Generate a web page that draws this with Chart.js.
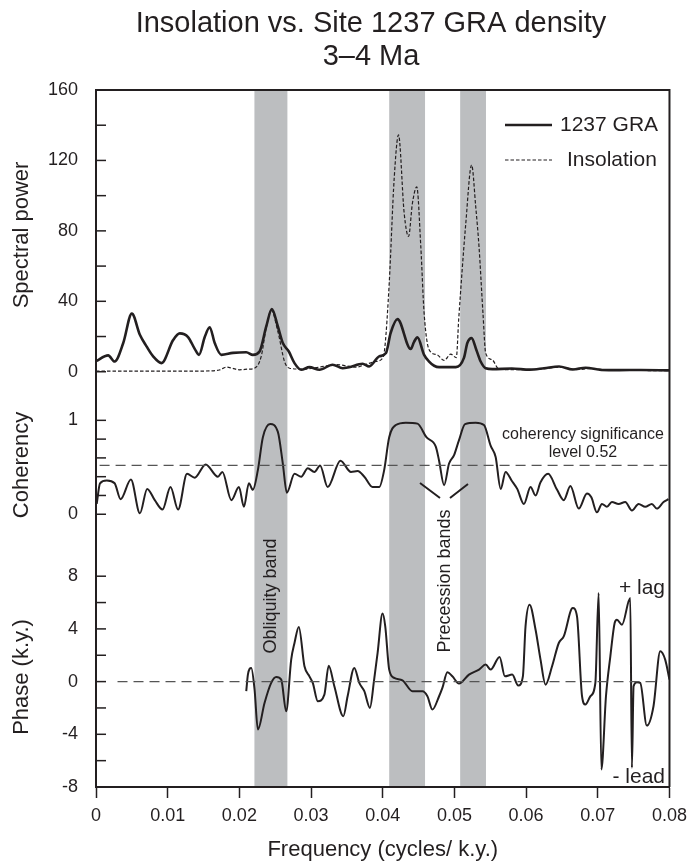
<!DOCTYPE html>
<html>
<head>
<meta charset="utf-8">
<title>Insolation vs. Site 1237 GRA density</title>
<script src="https://cdn.jsdelivr.net/npm/chart.js@4.4.1/dist/chart.umd.min.js"></script>
<style>
  html, body { margin: 0; padding: 0; background: #fff; }
  canvas { display: block; }
</style>
</head>
<body>
<canvas id="spectraChart" width="694" height="863"></canvas>
<script>
// spectral power, 1237 GRA
const graFreq = [0, 0.0017, 0.0026, 0.0038, 0.005, 0.00612, 0.00705, 0.00797, 0.00914, 0.01076, 0.01169,
  0.01284, 0.01377, 0.01437, 0.01517, 0.01586, 0.01656, 0.01748, 0.0191, 0.02096, 0.02189, 0.02282,
  0.02375, 0.02453, 0.02537, 0.02606, 0.0269, 0.02769, 0.02862, 0.02977, 0.03117, 0.03301, 0.0344,
  0.0353, 0.0372, 0.0381, 0.0395, 0.04045, 0.0411, 0.04206, 0.0439, 0.04437, 0.04484, 0.04577,
  0.04647, 0.04717, 0.04786, 0.0502, 0.05134, 0.0518, 0.0524, 0.05305, 0.05366, 0.05436, 0.0553,
  0.058, 0.0605, 0.0625, 0.0646, 0.0665, 0.0683, 0.0705, 0.073, 0.076, 0.08];
const graPower = [6, 9.3, 5.8, 16.3, 33, 21, 14.4, 8.7, 4.9, 18, 21.8,
  19.7, 13, 9.6, 19.7, 25.3, 16.3, 9.6, 10.7, 11.1, 9.6, 11.5,
  25.7, 35.6, 25.7, 16.3, 11.5, 4.9, 1.1, 2.6, 1.1, 4, 2,
  2.6, 4.5, 3, 8.7, 10.6, 22, 29.9, 12.9, 17, 19.5, 9.6,
  5.8, 3.4, 2.6, 2.6, 8, 16.3, 19.1, 12.5, 5.8, 2, 1.5,
  1.8, 1.2, 2, 3, 1.3, 2.3, 1, 0.9, 1, 0.8];

// spectral power, insolation
const insFreq = [0, 0.005, 0.01, 0.015, 0.0172, 0.0182, 0.019, 0.02, 0.0213, 0.0221, 0.02305, 0.0237,
  0.02445, 0.0254, 0.0263, 0.027, 0.02885, 0.031, 0.0335, 0.0363, 0.0375, 0.039, 0.04, 0.0403,
  0.0409, 0.0416, 0.0422, 0.04299, 0.0436, 0.04414, 0.04475, 0.04531, 0.04577, 0.04647, 0.0476,
  0.04856, 0.04948, 0.05026, 0.0506, 0.05158, 0.0524, 0.05297, 0.05343, 0.05398, 0.05436, 0.05527,
  0.0562, 0.058, 0.062, 0.0648, 0.067, 0.069, 0.072, 0.076, 0.08];
const insPower = [0.3, 0.3, 0.3, 0.4, 1, 2.6, 2, 1.1, 1.5, 2, 8.7, 24,
  34.8, 22.4, 5.8, 2, 1.5, 2.5, 4, 2.6, 4, 5.8, 7.8, 14,
  50, 110, 134.5, 90, 76.8, 95.7, 105, 71, 33.3, 12.5, 9.6,
  6.4, 10, 8, 30, 84, 117.4, 93.8, 71, 33.3, 10.6, 6.8,
  1.5, 1.2, 1.5, 2.6, 1.2, 1.8, 0.8, 0.7, 0.6];

// coherency
const cohFreq = [0.0001, 0.00056, 0.0015, 0.0026, 0.00343, 0.00487, 0.00612, 0.00714, 0.0082, 0.00928,
  0.01039, 0.01145, 0.0127, 0.01377, 0.0153, 0.01701, 0.01763, 0.01888, 0.01994, 0.02063, 0.02133,
  0.02188, 0.02258, 0.02328, 0.0243, 0.02536, 0.02606, 0.02662, 0.02769, 0.02862, 0.02954, 0.03047,
  0.03126, 0.03232, 0.0341, 0.03557, 0.0365, 0.03743, 0.03858, 0.03951, 0.0402, 0.0409, 0.04183,
  0.04322, 0.04484, 0.04609, 0.0474, 0.04786, 0.04856, 0.04925, 0.04995, 0.05064, 0.05148, 0.05297,
  0.05412, 0.05505, 0.05575, 0.05645, 0.05714, 0.05797, 0.05876, 0.05969, 0.06062, 0.06132, 0.06201,
  0.06307, 0.06432, 0.06525, 0.06618, 0.06734, 0.06849, 0.0691, 0.06988, 0.07058, 0.07127, 0.07197,
  0.0729, 0.07383, 0.07476, 0.07569, 0.07662, 0.07754, 0.07823, 0.07917, 0.07986];
const cohValue = [0.11, 0.33, 0.36, 0.33, 0.16, 0.37, 0.01, 0.27, 0.15, 0.05,
  0.29, 0.05, 0.43, 0.39, 0.53, 0.40, 0.45, 0.15, 0.29, 0.08, 0.33,
  0.26, 0.47, 0.82, 0.96, 0.88, 0.54, 0.23, 0.43, 0.40, 0.49, 0.45,
  0.52, 0.29, 0.57, 0.45, 0.46, 0.40, 0.29, 0.29, 0.47, 0.82, 0.95,
  0.975, 0.965, 0.82, 0.72, 0.57, 0.31, 0.54, 0.63, 0.79, 0.96, 0.975,
  0.95, 0.73, 0.61, 0.27, 0.45, 0.36, 0.27, 0.11, 0.29, 0.20, 0.34,
  0.43, 0.26, 0.15, 0.30, 0.06, 0.22, 0.18, 0.02, 0.11, 0.08, 0.13,
  0.11, 0.13, 0.04, 0.11, 0.08, 0.11, 0.06, 0.13, 0.16];
const cohSigFreq = [0.0005, 0.0797];
const cohSigLevel = [0.52, 0.52];

// phase (k.y.)
const phaseFreq = [0.02096, 0.02119, 0.02166, 0.02212, 0.02258, 0.02351, 0.02444, 0.02514, 0.02584,
  0.02653, 0.02723, 0.02769, 0.02829, 0.02908, 0.02977, 0.03024, 0.03094, 0.03186, 0.03246, 0.03325,
  0.0345, 0.0351, 0.03603, 0.03673, 0.03743, 0.03821, 0.0388, 0.03928, 0.03997, 0.04035, 0.0409,
  0.0416, 0.04275, 0.04414, 0.04554, 0.04623, 0.04693, 0.04786, 0.04832, 0.04902, 0.04971, 0.05064,
  0.05203, 0.05343, 0.05436, 0.05505, 0.0563, 0.05704, 0.05806, 0.0589, 0.05955, 0.05992, 0.06048,
  0.06132, 0.06201, 0.06271, 0.06362, 0.06456, 0.06525, 0.0665, 0.0671, 0.0678, 0.06827, 0.06897,
  0.06966, 0.07012, 0.0705, 0.07114, 0.07175, 0.07235, 0.07267, 0.07337, 0.07453, 0.07476, 0.07499,
  0.07545, 0.07592, 0.07684, 0.07777, 0.07871, 0.0794, 0.08];
const phaseValue = [-0.73, 0.53, 1.04, -0.6, -3.64, -1.62, -0.1, 0.35, 0.15,
  -2.25, 1.67, 2.93, 4.15, 1.16, 0.4, -0.1, -1.49, -0.99, 1.21, -0.35,
  -2.63, -1.11, 1.04, -0.1, -0.73, -2.0, 0.15, 2.17, 5.16, 4.2, 0.91,
  0.28, 0.1, -0.73, -0.73, -1.11, -2.12, -1.11, -0.48, 0.71, 0.4, -0.15,
  0.53, 0.91, 1.29, 0.91, 1.87, 0.4, 0.53, -0.3, 0.4, 4.2, 5.84,
  3.94, 1.67, -0.23, 1.16, 2.93, 3.43, 5.59, 4.95, -1.11, -1.74, -1.11,
  -0.1, 6.72, -6.67, -1.11, 1.92, 4.45, 4.7, 4.32, 6.34, -6.54, -0.35,
  -0.05, -0.1, -3.34, -1.87, 2.3, 1.67, 0.15];
const phaseZeroFreq = [0.003, 0.0789];
const phaseZeroLevel = [0, 0];

// orbital bands (cycles/k.y.)
const bandStart = [0.0221, 0.0409, 0.0508];
const bandEnd = [0.0267, 0.0459, 0.0544];

// ticks
const freqTicks = [0, 0.01, 0.02, 0.03, 0.04, 0.05, 0.06, 0.07, 0.08];
const freqLabels = ['0', '0.01', '0.02', '0.03', '0.04', '0.05', '0.06', '0.07', '0.08'];
const specTicks = [0, 20, 40, 60, 80, 100, 120, 140, 160];
const specLabels = [0, 40, 80, 120, 160];
const cohTicks = [0, 0.2, 0.4, 0.6, 0.8, 1];
const cohLabels = [0, 1];
const phaseTicks = [-8, -6, -4, -2, 0, 2, 4, 6, 8];
const phaseLabels = [-8, -4, 0, 4, 8];

const titleLines = ['Insolation vs. Site 1237 GRA density', '3\u20134 Ma'];

const INK = '#231f20';
const FONT = '"Liberation Sans", Arial, Helvetica, sans-serif';
Chart.defaults.font.family = FONT;
Chart.defaults.color = INK;

function points(xs, ys) {
    return xs.map((x, i) => ({ x: x, y: ys[i] }));
}

// one of the three stacked y axes
function panelAxis(min, max, weight, stackWeight, tickValues, labelValues) {
    return {
        type: 'linear',
        position: 'left',
        stack: 'panels',
        stackWeight: stackWeight,
        weight: weight,
        min: min,
        max: max,
        afterBuildTicks: s => { s.ticks = tickValues.map(v => ({ value: v })); },
        afterFit: s => { s.width = 96; },
        ticks: {
            autoSkip: false,
            padding: 18,
            font: { size: 18 },
            color: INK,
            callback: v => labelValues.includes(v) ? String(v) : ''
        },
        grid: { display: false, drawTicks: false },
        border: { display: true, color: INK, width: 2 }
    };
}

// bands behind everything, text and frame on top
const overlayPlugin = {
    id: 'overlay',
    beforeDraw(chart) {
        const { ctx, chartArea: a, scales } = chart;
        ctx.save();
        ctx.fillStyle = '#bcbec0';
        bandStart.forEach((b, i) => {
            const x1 = scales.x.getPixelForValue(b);
            const x2 = scales.x.getPixelForValue(bandEnd[i]);
            ctx.fillRect(x1, a.top, x2 - x1, a.bottom - a.top);
        });
        ctx.restore();
    },
    afterDraw(chart) {
        const { ctx, chartArea: a, scales } = chart;
        ctx.save();

        // top and right frame
        ctx.strokeStyle = INK;
        ctx.lineWidth = 2;
        ctx.beginPath();
        ctx.moveTo(a.left - 1, a.top);
        ctx.lineTo(a.right, a.top);
        ctx.lineTo(a.right, a.bottom);
        ctx.stroke();

        // inward tick marks on the left axis
        ctx.lineWidth = 1.5;
        ['ySpec', 'yCoh', 'yPhase'].forEach(id => {
            const s = scales[id];
            s.ticks.forEach(t => {
                const y = s.getPixelForValue(t.value);
                ctx.beginPath();
                ctx.moveTo(a.left, y);
                ctx.lineTo(a.left + 10, y);
                ctx.stroke();
            });
        });

        ctx.fillStyle = INK;

        // title
        ctx.textAlign = 'center';
        ctx.textBaseline = 'alphabetic';
        ctx.font = '29px ' + FONT;
        ctx.fillText(titleLines[0], 371, 32);
        ctx.fillText(titleLines[1], 371, 65);

        // rotated texts
        function vText(text, x, y, size) {
            ctx.save();
            ctx.translate(x, y);
            ctx.rotate(-Math.PI / 2);
            ctx.font = size + 'px ' + FONT;
            ctx.textAlign = 'center';
            ctx.textBaseline = 'middle';
            ctx.fillText(text, 0, 0);
            ctx.restore();
        }
        vText('Spectral power', 22, 235, 22);
        vText('Coherency', 22, 465, 22);
        vText('Phase (k.y.)', 22, 677, 22);
        vText('Obliquity band', 271, 596, 18);
        vText('Precession bands', 445, 581, 18);

        // legend
        ctx.lineWidth = 2.6;
        ctx.beginPath();
        ctx.moveTo(505, 125);
        ctx.lineTo(552, 125);
        ctx.stroke();
        ctx.lineWidth = 1.2;
        ctx.setLineDash([3.5, 2]);
        ctx.beginPath();
        ctx.moveTo(505, 160);
        ctx.lineTo(552, 160);
        ctx.stroke();
        ctx.setLineDash([]);
        ctx.font = '21px ' + FONT;
        ctx.textAlign = 'left';
        ctx.textBaseline = 'middle';
        ctx.fillText('1237 GRA', 560, 125);
        ctx.fillText('Insolation', 567, 160);

        // coherency note
        ctx.font = '16px ' + FONT;
        ctx.textAlign = 'center';
        ctx.fillText('coherency significance', 583, 435);
        ctx.fillText('level 0.52', 583, 453);

        // pointers to the precession bands
        ctx.lineWidth = 2;
        ctx.beginPath();
        ctx.moveTo(420, 483);
        ctx.lineTo(440, 498);
        ctx.moveTo(450, 498);
        ctx.lineTo(468, 484);
        ctx.stroke();

        // lag / lead
        ctx.font = '21px ' + FONT;
        ctx.textAlign = 'right';
        ctx.fillText('+ lag', 665, 588);
        ctx.fillText('- lead', 665, 777);

        ctx.restore();
    }
};

const lineBase = { pointRadius: 0, fill: false, cubicInterpolationMode: 'monotone', borderJoinStyle: 'round' };

new Chart(document.getElementById('spectraChart'), {
    type: 'line',
    data: {
        datasets: [
            { ...lineBase, label: 'Insolation', data: points(insFreq, insPower), yAxisID: 'ySpec',
              borderColor: INK, borderWidth: 1.2, borderDash: [3.5, 2] },
            { ...lineBase, label: '1237 GRA', data: points(graFreq, graPower), yAxisID: 'ySpec',
              borderColor: INK, borderWidth: 2.6 },
            { ...lineBase, label: 'significance', data: points(cohSigFreq, cohSigLevel), yAxisID: 'yCoh',
              borderColor: '#555', borderWidth: 1.1, borderDash: [10, 6] },
            { ...lineBase, label: 'Coherency', data: points(cohFreq, cohValue), yAxisID: 'yCoh',
              borderColor: INK, borderWidth: 2 },
            { ...lineBase, label: 'zero', data: points(phaseZeroFreq, phaseZeroLevel), yAxisID: 'yPhase',
              borderColor: '#555', borderWidth: 1.1, borderDash: [10, 6] },
            { ...lineBase, label: 'Phase', data: points(phaseFreq, phaseValue), yAxisID: 'yPhase',
              borderColor: INK, borderWidth: 2 }
        ]
    },
    options: {
        responsive: false,
        devicePixelRatio: 1,
        animation: false,
        layout: { padding: { top: 90, right: 23, bottom: 0, left: 0 } },
        plugins: {
            legend: { display: false },
            tooltip: { enabled: false }
        },
        scales: {
            x: {
                type: 'linear',
                min: 0,
                max: 0.08,
                afterBuildTicks: s => { s.ticks = freqTicks.map(v => ({ value: v })); },
                afterFit: s => { s.height = 76; },
                ticks: {
                    autoSkip: false,
                    maxRotation: 0,
                    padding: 7,
                    font: { size: 18 },
                    color: INK,
                    callback: (v, i) => freqLabels[i]
                },
                grid: { display: true, drawOnChartArea: false, drawTicks: true, tickLength: 11, tickWidth: 1.5, tickColor: INK },
                border: { display: true, color: INK, width: 2 },
                title: { display: true, text: 'Frequency (cycles/ k.y.)', font: { size: 22 }, color: INK, padding: { top: 0, bottom: 0 } }
            },
            ySpec: panelAxis(-14, 160, 3, 306.7, specTicks, specLabels),
            yCoh: panelAxis(-0.33, 1.255, 2, 149, cohTicks, cohLabels),
            yPhase: panelAxis(-8, 10.35, 1, 242, phaseTicks, phaseLabels)
        }
    },
    plugins: [overlayPlugin]
});
</script>
</body>
</html>
